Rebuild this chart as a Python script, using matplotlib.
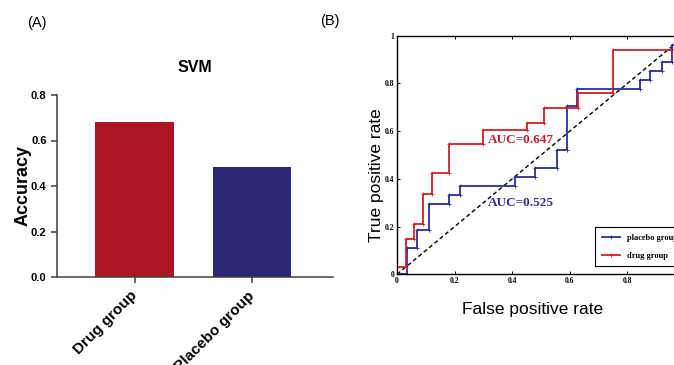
import numpy as np
import matplotlib
matplotlib.use('Agg')
import matplotlib.pyplot as plt

# (A) SVM accuracy
groups = ['Drug group', 'Placebo group']
accuracy = [0.683, 0.485]
bar_colors = ['#AE1522', '#2C2677']

# (B) ROC curves, corner points of the staircases
drug_fpr = [0, 0, 0.03, 0.03, 0.06, 0.06, 0.09, 0.09, 0.12, 0.12, 0.18, 0.18, 0.30, 0.30,
            0.45, 0.45, 0.51, 0.51, 0.63, 0.63, 0.75, 0.75, 1.0, 1.0]
drug_tpr = [0, 0.03, 0.03, 0.15, 0.15, 0.21, 0.21, 0.335, 0.335, 0.424, 0.424, 0.545, 0.545, 0.606,
            0.606, 0.636, 0.636, 0.697, 0.697, 0.758, 0.758, 0.94, 0.94, 1.0]
placebo_fpr = [0, 0.035, 0.035, 0.07, 0.07, 0.11, 0.11, 0.18, 0.18, 0.22, 0.22, 0.41, 0.41, 0.48,
               0.48, 0.555, 0.555, 0.59, 0.59, 0.625, 0.625, 0.845, 0.845, 0.88, 0.88, 0.92, 0.92,
               0.955, 0.955, 1.0, 1.0]
placebo_tpr = [0, 0, 0.111, 0.111, 0.185, 0.185, 0.296, 0.296, 0.333, 0.333, 0.37, 0.37, 0.407, 0.407,
               0.444, 0.444, 0.519, 0.519, 0.704, 0.704, 0.778, 0.778, 0.815, 0.815, 0.852, 0.852, 0.889,
               0.889, 0.963, 0.963, 1.0]
auc_drug = 0.647
auc_placebo = 0.525

W, H = 674, 365
fig = plt.figure(figsize=(W/100, H/100), dpi=100)
plt.rcParams['font.family'] = 'Liberation Sans'

#....panel A
ax1 = fig.add_axes([57/W, 1-277/H, 276/W, 182/H])
x = np.arange(len(groups))
ax1.bar(x, accuracy, width=0.67, color=bar_colors)
ax1.set_xlim(-0.66, 1.69)
ax1.set_ylim(0, 0.8)
ax1.set_yticks([0, 0.2, 0.4, 0.6, 0.8])
ax1.set_yticklabels(['0.0', '0.2', '0.4', '0.6', '0.8'], fontweight='bold', fontsize=8)
ax1.set_xticks(x)
ax1.set_xticklabels(groups, rotation=45, ha='right', va='center', rotation_mode='anchor',
                    fontweight='bold', fontsize=11)
ax1.tick_params(axis='x', pad=8)
ax1.tick_params(length=4, width=1.1, color='#404040')
for s in ['top', 'right']:
    ax1.spines[s].set_visible(False)
for s in ['left', 'bottom']:
    ax1.spines[s].set_color('#404040')
    ax1.spines[s].set_linewidth(1.1)
ax1.set_ylabel('Accuracy', fontweight='bold', fontsize=13)
ax1.yaxis.set_label_coords(-0.094, 0.5)
fig.text(195/W, 1-67/H, 'SVM', fontweight='bold', fontsize=11.5, ha='center', va='center')
fig.text(37/W, 1-23/H, '(A)', fontsize=10.5, ha='center', va='center')
fig.text(330/W, 1-21/H, '(B)', fontsize=10.5, ha='center', va='center')

#....panel B
ax2 = fig.add_axes([397/W, 1-274.3/H, 288/W, 238.6/H])
ax2.plot([0, 1], [0, 1], '--', color='black', linewidth=1, dashes=(3, 2))
ax2.plot(placebo_fpr, placebo_tpr, color='#2B2E9A', linewidth=1.3, marker='+', markersize=2.5,
         markeredgewidth=0.6, label='placebo group')
ax2.plot(drug_fpr, drug_tpr, color='#D3202A', linewidth=1.3, marker='+', markersize=2.5,
         markeredgewidth=0.6, label='drug group')
ax2.set_xlim(0, 1)
ax2.set_ylim(0, 1)
ticks = [0, 0.2, 0.4, 0.6, 0.8, 1]
tlabels = ['0', '0.2', '0.4', '0.6', '0.8', '1']
ax2.set_xticks(ticks)
ax2.set_xticklabels(tlabels, family='Liberation Serif', fontweight='bold', fontsize=5.5)
ax2.set_yticks(ticks)
ax2.set_yticklabels(tlabels, family='Liberation Serif', fontweight='bold', fontsize=5.5)
ax2.tick_params(direction='in', top=True, right=True, length=2.5, width=0.7, pad=2)
for s in ax2.spines.values():
    s.set_linewidth(1.0)
ax2.set_ylabel('True positive rate', fontsize=12.5)
ax2.yaxis.set_label_coords(-0.045, 0.416)
ax2.set_xlabel('False positive rate', fontsize=12.5)
ax2.xaxis.set_label_coords(0.47, -0.115)
ax2.text(0.317, 0.563, 'AUC=%.3f' % auc_drug, color='#C81E28', family='Liberation Serif',
         fontweight='bold', fontsize=9.5, va='center')
ax2.text(0.317, 0.299, 'AUC=%.3f' % auc_placebo, color='#2B2E9A', family='Liberation Serif',
         fontweight='bold', fontsize=9.5, va='center')
leg = ax2.legend(loc='upper left', bbox_to_anchor=(595/W, 1-227/H), bbox_transform=fig.transFigure,
                 prop={'family': 'Liberation Serif', 'weight': 'bold', 'size': 6},
                 fancybox=False, edgecolor='black', framealpha=1, handlelength=2.2,
                 borderpad=0.8, labelspacing=1.2, borderaxespad=0)
leg.get_frame().set_linewidth(0.8)

plt.savefig('out.png', dpi=100)
